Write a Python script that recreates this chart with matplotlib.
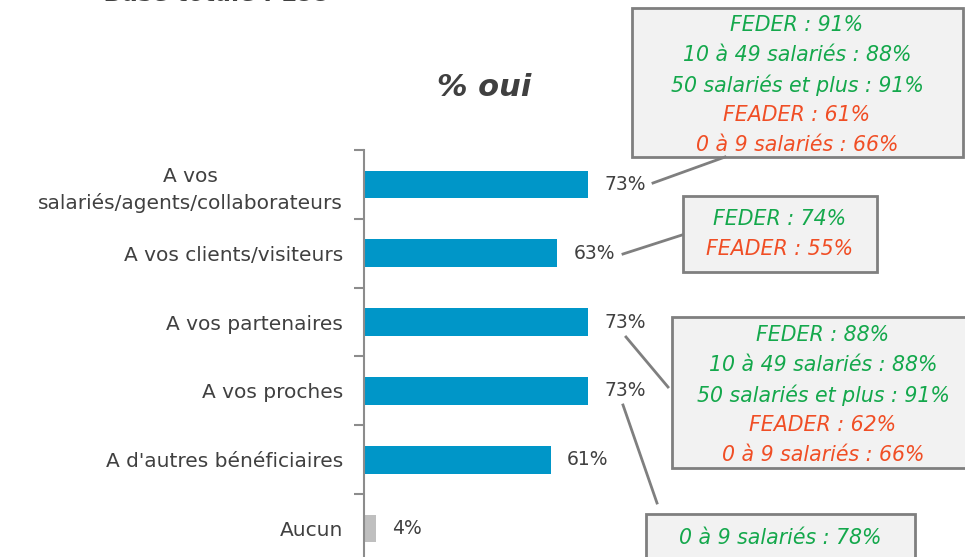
import matplotlib.pyplot as plt
from matplotlib.patches import Rectangle
from matplotlib.lines import Line2D

plt.rcParams['font.family'] = ['DejaVu Sans']

categories = ["A vos\nsalariés/agents/collaborateurs", "A vos clients/visiteurs",
              "A vos partenaires", "A vos proches", "A d'autres bénéficiaires", "Aucun"]
values = [73, 63, 73, 73, 61, 4]
bar_colors = ["#0096C8"] * 5 + ["#BFBFBF"]

# callout boxes: lines of text and their group (green = above, red = below)
box1_lines = ["FEDER : 91%", "10 à 49 salariés : 88%", "50 salariés et plus : 91%",
              "FEADER : 61%", "0 à 9 salariés : 66%"]
box1_kinds = ["up", "up", "up", "down", "down"]
box2_lines = ["FEDER : 74%", "FEADER : 55%"]
box2_kinds = ["up", "down"]
box3_lines = ["FEDER : 88%", "10 à 49 salariés : 88%", "50 salariés et plus : 91%",
              "FEADER : 62%", "0 à 9 salariés : 66%"]
box3_kinds = ["up", "up", "up", "down", "down"]
box4_lines = ["0 à 9 salariés : 78%"]
box4_kinds = ["up"]

GREEN = "#14A84C"
RED = "#F04E25"
GREY_TXT = "#404040"
W, H = 965, 557

fig = plt.figure(figsize=(W / 100, H / 100), dpi=100)


def fx(x):
    return x / W


def fy(y):
    return 1 - y / H


# axes: left at 364px, 3.07 px per %, slots of 68.8 px starting at 150px
ax = fig.add_axes([fx(364), fy(563), 307 / W, (563 - 150) / H])
ax.set_xlim(0, 100)
ax.set_ylim(5.5, -0.5)
ax.barh(range(len(values)), values, height=0.4, color=bar_colors)
for i, v in enumerate(values):
    ax.text(v + 5.2, i, f"{v}%", va="center", ha="left", fontsize=13.5, color=GREY_TXT)

ax.set_yticks(range(len(values)))
ax.set_yticklabels(categories, fontsize=14.5, color=GREY_TXT, ha="right",
                   multialignment="center", linespacing=1.45)
ax.tick_params(axis="y", which="major", length=0, pad=15)
ax.set_yticks([i - 0.5 for i in range(len(values) + 1)], minor=True)
ax.tick_params(axis="y", which="minor", length=7, width=1.5, color="#8C8C8C")
ax.set_xticks([])
for s in ["top", "right", "bottom"]:
    ax.spines[s].set_visible(False)
ax.spines["left"].set_color("#8C8C8C")
ax.spines["left"].set_linewidth(1.5)

fig.text(fx(105), fy(1), "Base totale : 199", fontsize=17, fontweight="bold",
         fontstyle="italic", color=GREY_TXT, ha="left", va="baseline")
fig.text(fx(484), fy(88), "% oui", fontsize=22, fontweight="bold",
         fontstyle="italic", color=GREY_TXT, ha="center", va="center")


def callout(x0, y0, x1, y1, cx, first_y, lines, kinds):
    fig.patches.append(Rectangle((fx(x0), fy(y1)), (x1 - x0) / W, (y1 - y0) / H,
                                 transform=fig.transFigure, facecolor="#F2F2F2",
                                 edgecolor="#7F7F7F", linewidth=2))
    for k, (t, kind) in enumerate(zip(lines, kinds)):
        fig.text(fx(cx), fy(first_y + 30 * k), t, ha="center", va="center",
                 fontsize=14.8, fontstyle="italic",
                 color=GREEN if kind == "up" else RED)


def connector(xa, ya, xb, yb):
    fig.lines.append(Line2D([fx(xa), fx(xb)], [fy(ya), fy(yb)],
                            transform=fig.transFigure, color="#7F7F7F", linewidth=2))


connector(653, 183, 725, 157)
connector(623, 254, 682, 235)
connector(626, 337, 668, 387)
connector(623, 405, 657, 503)

callout(632, 8, 963, 157, 797, 25, box1_lines, box1_kinds)
callout(683, 196, 877, 272, 780, 219, box2_lines, box2_kinds)
callout(672, 317, 968, 468, 823, 335, box3_lines, box3_kinds)
callout(646, 514, 915, 570, 780, 538, box4_lines, box4_kinds)

fig.savefig("out.png", dpi=100)
